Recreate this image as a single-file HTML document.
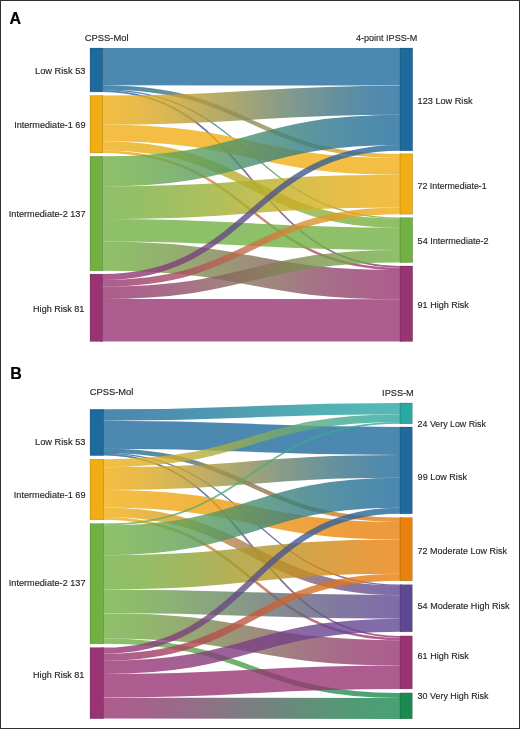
<!DOCTYPE html>
<html><head><meta charset="utf-8"><style>
html,body{margin:0;padding:0;background:#fff}
body{width:520px;height:729px;overflow:hidden}
svg{display:block;will-change:transform}
text{font-family:"Liberation Sans",sans-serif;fill:#262626;stroke:#262626;stroke-width:0.15px}
.lbl{font-size:9.60px}
.hdr{font-size:9.60px}
.big{font-size:16px;font-weight:bold;fill:#000;stroke:#000;stroke-width:0.2px}
</style></head><body>
<svg width="520" height="729" viewBox="0 0 520 729">
<defs><linearGradient id="g1" gradientUnits="userSpaceOnUse" x1="102.4" x2="400.0" y1="0" y2="0"><stop offset="0.00" stop-color="#1f6a9c"/><stop offset="0.10" stop-color="#1f6a9c"/><stop offset="0.20" stop-color="#1f6a9c"/><stop offset="0.30" stop-color="#1f6a9c"/><stop offset="0.40" stop-color="#1f6a9c"/><stop offset="0.50" stop-color="#1f6a9c"/><stop offset="0.60" stop-color="#1f6a9c"/><stop offset="0.70" stop-color="#1f6a9c"/><stop offset="0.80" stop-color="#1f6a9c"/><stop offset="0.90" stop-color="#1f6a9c"/><stop offset="1.00" stop-color="#1f6a9c"/></linearGradient><linearGradient id="g2" gradientUnits="userSpaceOnUse" x1="102.4" x2="400.0" y1="0" y2="0"><stop offset="0.00" stop-color="#1f6a9c"/><stop offset="0.10" stop-color="#2a6e95"/><stop offset="0.20" stop-color="#3c7389"/><stop offset="0.30" stop-color="#527b7b"/><stop offset="0.40" stop-color="#6c836a"/><stop offset="0.50" stop-color="#888c58"/><stop offset="0.60" stop-color="#a39546"/><stop offset="0.70" stop-color="#bd9d35"/><stop offset="0.80" stop-color="#d3a527"/><stop offset="0.90" stop-color="#e5aa1b"/><stop offset="1.00" stop-color="#f0ae14"/></linearGradient><linearGradient id="g3" gradientUnits="userSpaceOnUse" x1="102.4" x2="400.0" y1="0" y2="0"><stop offset="0.00" stop-color="#1f6a9c"/><stop offset="0.10" stop-color="#236e97"/><stop offset="0.20" stop-color="#2a7490"/><stop offset="0.30" stop-color="#337b86"/><stop offset="0.40" stop-color="#3e847c"/><stop offset="0.50" stop-color="#488d70"/><stop offset="0.60" stop-color="#539664"/><stop offset="0.70" stop-color="#5e9f5a"/><stop offset="0.80" stop-color="#67a650"/><stop offset="0.90" stop-color="#6eac49"/><stop offset="1.00" stop-color="#72b044"/></linearGradient><linearGradient id="g4" gradientUnits="userSpaceOnUse" x1="102.4" x2="400.0" y1="0" y2="0"><stop offset="0.00" stop-color="#1f6a9c"/><stop offset="0.10" stop-color="#25679a"/><stop offset="0.20" stop-color="#306396"/><stop offset="0.30" stop-color="#3d5d92"/><stop offset="0.40" stop-color="#4c568d"/><stop offset="0.50" stop-color="#5c4f87"/><stop offset="0.60" stop-color="#6b4881"/><stop offset="0.70" stop-color="#7a417c"/><stop offset="0.80" stop-color="#873b78"/><stop offset="0.90" stop-color="#923774"/><stop offset="1.00" stop-color="#983472"/></linearGradient><linearGradient id="g5" gradientUnits="userSpaceOnUse" x1="102.4" x2="400.0" y1="0" y2="0"><stop offset="0.00" stop-color="#f0ae14"/><stop offset="0.10" stop-color="#e5aa1b"/><stop offset="0.20" stop-color="#d3a527"/><stop offset="0.30" stop-color="#bd9d35"/><stop offset="0.40" stop-color="#a39546"/><stop offset="0.50" stop-color="#888c58"/><stop offset="0.60" stop-color="#6c836a"/><stop offset="0.70" stop-color="#527b7b"/><stop offset="0.80" stop-color="#3c7389"/><stop offset="0.90" stop-color="#2a6e95"/><stop offset="1.00" stop-color="#1f6a9c"/></linearGradient><linearGradient id="g6" gradientUnits="userSpaceOnUse" x1="102.4" x2="400.0" y1="0" y2="0"><stop offset="0.00" stop-color="#f0ae14"/><stop offset="0.10" stop-color="#f0ae14"/><stop offset="0.20" stop-color="#f0ae14"/><stop offset="0.30" stop-color="#f0ae14"/><stop offset="0.40" stop-color="#f0ae14"/><stop offset="0.50" stop-color="#f0ae14"/><stop offset="0.60" stop-color="#f0ae14"/><stop offset="0.70" stop-color="#f0ae14"/><stop offset="0.80" stop-color="#f0ae14"/><stop offset="0.90" stop-color="#f0ae14"/><stop offset="1.00" stop-color="#f0ae14"/></linearGradient><linearGradient id="g7" gradientUnits="userSpaceOnUse" x1="102.4" x2="400.0" y1="0" y2="0"><stop offset="0.00" stop-color="#f0ae14"/><stop offset="0.10" stop-color="#e9ae17"/><stop offset="0.20" stop-color="#dfae1b"/><stop offset="0.30" stop-color="#d1ae20"/><stop offset="0.40" stop-color="#c2af26"/><stop offset="0.50" stop-color="#b1af2c"/><stop offset="0.60" stop-color="#a0af32"/><stop offset="0.70" stop-color="#91b038"/><stop offset="0.80" stop-color="#83b03d"/><stop offset="0.90" stop-color="#79b041"/><stop offset="1.00" stop-color="#72b044"/></linearGradient><linearGradient id="g8" gradientUnits="userSpaceOnUse" x1="102.4" x2="400.0" y1="0" y2="0"><stop offset="0.00" stop-color="#f0ae14"/><stop offset="0.10" stop-color="#eba819"/><stop offset="0.20" stop-color="#e49d21"/><stop offset="0.30" stop-color="#da902b"/><stop offset="0.40" stop-color="#d08137"/><stop offset="0.50" stop-color="#c47143"/><stop offset="0.60" stop-color="#b8614f"/><stop offset="0.70" stop-color="#ae525b"/><stop offset="0.80" stop-color="#a44565"/><stop offset="0.90" stop-color="#9d3a6d"/><stop offset="1.00" stop-color="#983472"/></linearGradient><linearGradient id="g9" gradientUnits="userSpaceOnUse" x1="102.4" x2="400.0" y1="0" y2="0"><stop offset="0.00" stop-color="#72b044"/><stop offset="0.10" stop-color="#6eac49"/><stop offset="0.20" stop-color="#67a650"/><stop offset="0.30" stop-color="#5e9f5a"/><stop offset="0.40" stop-color="#539664"/><stop offset="0.50" stop-color="#488d70"/><stop offset="0.60" stop-color="#3e847c"/><stop offset="0.70" stop-color="#337b86"/><stop offset="0.80" stop-color="#2a7490"/><stop offset="0.90" stop-color="#236e97"/><stop offset="1.00" stop-color="#1f6a9c"/></linearGradient><linearGradient id="g10" gradientUnits="userSpaceOnUse" x1="102.4" x2="400.0" y1="0" y2="0"><stop offset="0.00" stop-color="#72b044"/><stop offset="0.10" stop-color="#79b041"/><stop offset="0.20" stop-color="#83b03d"/><stop offset="0.30" stop-color="#91b038"/><stop offset="0.40" stop-color="#a0af32"/><stop offset="0.50" stop-color="#b1af2c"/><stop offset="0.60" stop-color="#c2af26"/><stop offset="0.70" stop-color="#d1ae20"/><stop offset="0.80" stop-color="#dfae1b"/><stop offset="0.90" stop-color="#e9ae17"/><stop offset="1.00" stop-color="#f0ae14"/></linearGradient><linearGradient id="g11" gradientUnits="userSpaceOnUse" x1="102.4" x2="400.0" y1="0" y2="0"><stop offset="0.00" stop-color="#72b044"/><stop offset="0.10" stop-color="#72b044"/><stop offset="0.20" stop-color="#72b044"/><stop offset="0.30" stop-color="#72b044"/><stop offset="0.40" stop-color="#72b044"/><stop offset="0.50" stop-color="#72b044"/><stop offset="0.60" stop-color="#72b044"/><stop offset="0.70" stop-color="#72b044"/><stop offset="0.80" stop-color="#72b044"/><stop offset="0.90" stop-color="#72b044"/><stop offset="1.00" stop-color="#72b044"/></linearGradient><linearGradient id="g12" gradientUnits="userSpaceOnUse" x1="102.4" x2="400.0" y1="0" y2="0"><stop offset="0.00" stop-color="#72b044"/><stop offset="0.10" stop-color="#74a946"/><stop offset="0.20" stop-color="#779f4a"/><stop offset="0.30" stop-color="#7b924f"/><stop offset="0.40" stop-color="#808255"/><stop offset="0.50" stop-color="#85725b"/><stop offset="0.60" stop-color="#8a6261"/><stop offset="0.70" stop-color="#8f5267"/><stop offset="0.80" stop-color="#93456c"/><stop offset="0.90" stop-color="#963b70"/><stop offset="1.00" stop-color="#983472"/></linearGradient><linearGradient id="g13" gradientUnits="userSpaceOnUse" x1="102.4" x2="400.0" y1="0" y2="0"><stop offset="0.00" stop-color="#983472"/><stop offset="0.10" stop-color="#923774"/><stop offset="0.20" stop-color="#873b78"/><stop offset="0.30" stop-color="#7a417c"/><stop offset="0.40" stop-color="#6b4881"/><stop offset="0.50" stop-color="#5c4f87"/><stop offset="0.60" stop-color="#4c568d"/><stop offset="0.70" stop-color="#3d5d92"/><stop offset="0.80" stop-color="#306396"/><stop offset="0.90" stop-color="#25679a"/><stop offset="1.00" stop-color="#1f6a9c"/></linearGradient><linearGradient id="g14" gradientUnits="userSpaceOnUse" x1="102.4" x2="400.0" y1="0" y2="0"><stop offset="0.00" stop-color="#983472"/><stop offset="0.10" stop-color="#9d3a6d"/><stop offset="0.20" stop-color="#a44565"/><stop offset="0.30" stop-color="#ae525b"/><stop offset="0.40" stop-color="#b8614f"/><stop offset="0.50" stop-color="#c47143"/><stop offset="0.60" stop-color="#d08137"/><stop offset="0.70" stop-color="#da902b"/><stop offset="0.80" stop-color="#e49d21"/><stop offset="0.90" stop-color="#eba819"/><stop offset="1.00" stop-color="#f0ae14"/></linearGradient><linearGradient id="g15" gradientUnits="userSpaceOnUse" x1="102.4" x2="400.0" y1="0" y2="0"><stop offset="0.00" stop-color="#983472"/><stop offset="0.10" stop-color="#963b70"/><stop offset="0.20" stop-color="#93456c"/><stop offset="0.30" stop-color="#8f5267"/><stop offset="0.40" stop-color="#8a6261"/><stop offset="0.50" stop-color="#85725b"/><stop offset="0.60" stop-color="#808255"/><stop offset="0.70" stop-color="#7b924f"/><stop offset="0.80" stop-color="#779f4a"/><stop offset="0.90" stop-color="#74a946"/><stop offset="1.00" stop-color="#72b044"/></linearGradient><linearGradient id="g16" gradientUnits="userSpaceOnUse" x1="102.4" x2="400.0" y1="0" y2="0"><stop offset="0.00" stop-color="#983472"/><stop offset="0.10" stop-color="#983472"/><stop offset="0.20" stop-color="#983472"/><stop offset="0.30" stop-color="#983472"/><stop offset="0.40" stop-color="#983472"/><stop offset="0.50" stop-color="#983472"/><stop offset="0.60" stop-color="#983472"/><stop offset="0.70" stop-color="#983472"/><stop offset="0.80" stop-color="#983472"/><stop offset="0.90" stop-color="#983472"/><stop offset="1.00" stop-color="#983472"/></linearGradient><linearGradient id="g17" gradientUnits="userSpaceOnUse" x1="103.4" x2="400.0" y1="0" y2="0"><stop offset="0.00" stop-color="#1f6a9c"/><stop offset="0.10" stop-color="#206d9c"/><stop offset="0.20" stop-color="#21739d"/><stop offset="0.30" stop-color="#22799d"/><stop offset="0.40" stop-color="#23819e"/><stop offset="0.50" stop-color="#24899f"/><stop offset="0.60" stop-color="#2691a0"/><stop offset="0.70" stop-color="#2799a1"/><stop offset="0.80" stop-color="#289fa1"/><stop offset="0.90" stop-color="#29a5a2"/><stop offset="1.00" stop-color="#2aa8a2"/></linearGradient><linearGradient id="g18" gradientUnits="userSpaceOnUse" x1="103.4" x2="400.0" y1="0" y2="0"><stop offset="0.00" stop-color="#1f6a9c"/><stop offset="0.10" stop-color="#1f6a9c"/><stop offset="0.20" stop-color="#1f6a9c"/><stop offset="0.30" stop-color="#1f6a9c"/><stop offset="0.40" stop-color="#1f6a9c"/><stop offset="0.50" stop-color="#1f6a9c"/><stop offset="0.60" stop-color="#1f6a9c"/><stop offset="0.70" stop-color="#1f6a9c"/><stop offset="0.80" stop-color="#1f6a9c"/><stop offset="0.90" stop-color="#1f6a9c"/><stop offset="1.00" stop-color="#1f6a9c"/></linearGradient><linearGradient id="g19" gradientUnits="userSpaceOnUse" x1="103.4" x2="400.0" y1="0" y2="0"><stop offset="0.00" stop-color="#1f6a9c"/><stop offset="0.10" stop-color="#2a6b94"/><stop offset="0.20" stop-color="#3b6d88"/><stop offset="0.30" stop-color="#506f79"/><stop offset="0.40" stop-color="#697267"/><stop offset="0.50" stop-color="#847554"/><stop offset="0.60" stop-color="#9e7841"/><stop offset="0.70" stop-color="#b77b2f"/><stop offset="0.80" stop-color="#cc7d20"/><stop offset="0.90" stop-color="#dd7f14"/><stop offset="1.00" stop-color="#e8800c"/></linearGradient><linearGradient id="g20" gradientUnits="userSpaceOnUse" x1="103.4" x2="400.0" y1="0" y2="0"><stop offset="0.00" stop-color="#1f6a9c"/><stop offset="0.10" stop-color="#22689c"/><stop offset="0.20" stop-color="#28659b"/><stop offset="0.30" stop-color="#2e629a"/><stop offset="0.40" stop-color="#365d99"/><stop offset="0.50" stop-color="#3e5998"/><stop offset="0.60" stop-color="#475597"/><stop offset="0.70" stop-color="#4f5096"/><stop offset="0.80" stop-color="#554d95"/><stop offset="0.90" stop-color="#5b4a94"/><stop offset="1.00" stop-color="#5e4894"/></linearGradient><linearGradient id="g21" gradientUnits="userSpaceOnUse" x1="103.4" x2="400.0" y1="0" y2="0"><stop offset="0.00" stop-color="#1f6a9c"/><stop offset="0.10" stop-color="#25679a"/><stop offset="0.20" stop-color="#306396"/><stop offset="0.30" stop-color="#3d5d92"/><stop offset="0.40" stop-color="#4c568d"/><stop offset="0.50" stop-color="#5c4f87"/><stop offset="0.60" stop-color="#6b4881"/><stop offset="0.70" stop-color="#7a417c"/><stop offset="0.80" stop-color="#873b78"/><stop offset="0.90" stop-color="#923774"/><stop offset="1.00" stop-color="#983472"/></linearGradient><linearGradient id="g22" gradientUnits="userSpaceOnUse" x1="103.4" x2="400.0" y1="0" y2="0"><stop offset="0.00" stop-color="#f0ae14"/><stop offset="0.10" stop-color="#e5ae1c"/><stop offset="0.20" stop-color="#d5ad28"/><stop offset="0.30" stop-color="#bfad37"/><stop offset="0.40" stop-color="#a7ac48"/><stop offset="0.50" stop-color="#8dab5b"/><stop offset="0.60" stop-color="#73aa6e"/><stop offset="0.70" stop-color="#5ba97f"/><stop offset="0.80" stop-color="#45a98e"/><stop offset="0.90" stop-color="#35a89a"/><stop offset="1.00" stop-color="#2aa8a2"/></linearGradient><linearGradient id="g23" gradientUnits="userSpaceOnUse" x1="103.4" x2="400.0" y1="0" y2="0"><stop offset="0.00" stop-color="#f0ae14"/><stop offset="0.10" stop-color="#e5aa1b"/><stop offset="0.20" stop-color="#d3a527"/><stop offset="0.30" stop-color="#bd9d35"/><stop offset="0.40" stop-color="#a39546"/><stop offset="0.50" stop-color="#888c58"/><stop offset="0.60" stop-color="#6c836a"/><stop offset="0.70" stop-color="#527b7b"/><stop offset="0.80" stop-color="#3c7389"/><stop offset="0.90" stop-color="#2a6e95"/><stop offset="1.00" stop-color="#1f6a9c"/></linearGradient><linearGradient id="g24" gradientUnits="userSpaceOnUse" x1="103.4" x2="400.0" y1="0" y2="0"><stop offset="0.00" stop-color="#f0ae14"/><stop offset="0.10" stop-color="#f0ac14"/><stop offset="0.20" stop-color="#efa813"/><stop offset="0.30" stop-color="#eea312"/><stop offset="0.40" stop-color="#ed9d11"/><stop offset="0.50" stop-color="#ec9710"/><stop offset="0.60" stop-color="#eb910f"/><stop offset="0.70" stop-color="#ea8b0e"/><stop offset="0.80" stop-color="#e9860d"/><stop offset="0.90" stop-color="#e8820c"/><stop offset="1.00" stop-color="#e8800c"/></linearGradient><linearGradient id="g25" gradientUnits="userSpaceOnUse" x1="103.4" x2="400.0" y1="0" y2="0"><stop offset="0.00" stop-color="#f0ae14"/><stop offset="0.10" stop-color="#e8a91b"/><stop offset="0.20" stop-color="#dca026"/><stop offset="0.30" stop-color="#cc9533"/><stop offset="0.40" stop-color="#ba8843"/><stop offset="0.50" stop-color="#a77b54"/><stop offset="0.60" stop-color="#946e65"/><stop offset="0.70" stop-color="#826175"/><stop offset="0.80" stop-color="#725682"/><stop offset="0.90" stop-color="#664d8d"/><stop offset="1.00" stop-color="#5e4894"/></linearGradient><linearGradient id="g26" gradientUnits="userSpaceOnUse" x1="103.4" x2="400.0" y1="0" y2="0"><stop offset="0.00" stop-color="#f0ae14"/><stop offset="0.10" stop-color="#eba819"/><stop offset="0.20" stop-color="#e49d21"/><stop offset="0.30" stop-color="#da902b"/><stop offset="0.40" stop-color="#d08137"/><stop offset="0.50" stop-color="#c47143"/><stop offset="0.60" stop-color="#b8614f"/><stop offset="0.70" stop-color="#ae525b"/><stop offset="0.80" stop-color="#a44565"/><stop offset="0.90" stop-color="#9d3a6d"/><stop offset="1.00" stop-color="#983472"/></linearGradient><linearGradient id="g27" gradientUnits="userSpaceOnUse" x1="103.4" x2="400.0" y1="0" y2="0"><stop offset="0.00" stop-color="#72b044"/><stop offset="0.10" stop-color="#6eb049"/><stop offset="0.20" stop-color="#68af51"/><stop offset="0.30" stop-color="#60ae5b"/><stop offset="0.40" stop-color="#57ad67"/><stop offset="0.50" stop-color="#4eac73"/><stop offset="0.60" stop-color="#45ab7f"/><stop offset="0.70" stop-color="#3caa8b"/><stop offset="0.80" stop-color="#34a995"/><stop offset="0.90" stop-color="#2ea89d"/><stop offset="1.00" stop-color="#2aa8a2"/></linearGradient><linearGradient id="g28" gradientUnits="userSpaceOnUse" x1="103.4" x2="400.0" y1="0" y2="0"><stop offset="0.00" stop-color="#72b044"/><stop offset="0.10" stop-color="#6eac49"/><stop offset="0.20" stop-color="#67a650"/><stop offset="0.30" stop-color="#5e9f5a"/><stop offset="0.40" stop-color="#539664"/><stop offset="0.50" stop-color="#488d70"/><stop offset="0.60" stop-color="#3e847c"/><stop offset="0.70" stop-color="#337b86"/><stop offset="0.80" stop-color="#2a7490"/><stop offset="0.90" stop-color="#236e97"/><stop offset="1.00" stop-color="#1f6a9c"/></linearGradient><linearGradient id="g29" gradientUnits="userSpaceOnUse" x1="103.4" x2="400.0" y1="0" y2="0"><stop offset="0.00" stop-color="#72b044"/><stop offset="0.10" stop-color="#78ad41"/><stop offset="0.20" stop-color="#82a93c"/><stop offset="0.30" stop-color="#8fa436"/><stop offset="0.40" stop-color="#9e9e2f"/><stop offset="0.50" stop-color="#ad9828"/><stop offset="0.60" stop-color="#bc9221"/><stop offset="0.70" stop-color="#cb8c1a"/><stop offset="0.80" stop-color="#d88714"/><stop offset="0.90" stop-color="#e2830f"/><stop offset="1.00" stop-color="#e8800c"/></linearGradient><linearGradient id="g30" gradientUnits="userSpaceOnUse" x1="103.4" x2="400.0" y1="0" y2="0"><stop offset="0.00" stop-color="#72b044"/><stop offset="0.10" stop-color="#71aa48"/><stop offset="0.20" stop-color="#6fa24f"/><stop offset="0.30" stop-color="#6d9658"/><stop offset="0.40" stop-color="#6b8a62"/><stop offset="0.50" stop-color="#687c6c"/><stop offset="0.60" stop-color="#656e76"/><stop offset="0.70" stop-color="#636280"/><stop offset="0.80" stop-color="#615689"/><stop offset="0.90" stop-color="#5f4e90"/><stop offset="1.00" stop-color="#5e4894"/></linearGradient><linearGradient id="g31" gradientUnits="userSpaceOnUse" x1="103.4" x2="400.0" y1="0" y2="0"><stop offset="0.00" stop-color="#72b044"/><stop offset="0.10" stop-color="#74a946"/><stop offset="0.20" stop-color="#779f4a"/><stop offset="0.30" stop-color="#7b924f"/><stop offset="0.40" stop-color="#808255"/><stop offset="0.50" stop-color="#85725b"/><stop offset="0.60" stop-color="#8a6261"/><stop offset="0.70" stop-color="#8f5267"/><stop offset="0.80" stop-color="#93456c"/><stop offset="0.90" stop-color="#963b70"/><stop offset="1.00" stop-color="#983472"/></linearGradient><linearGradient id="g32" gradientUnits="userSpaceOnUse" x1="103.4" x2="400.0" y1="0" y2="0"><stop offset="0.00" stop-color="#72b044"/><stop offset="0.10" stop-color="#6dae45"/><stop offset="0.20" stop-color="#66ab46"/><stop offset="0.30" stop-color="#5ca747"/><stop offset="0.40" stop-color="#52a248"/><stop offset="0.50" stop-color="#469d4a"/><stop offset="0.60" stop-color="#3a984c"/><stop offset="0.70" stop-color="#30934d"/><stop offset="0.80" stop-color="#268f4e"/><stop offset="0.90" stop-color="#1f8c4f"/><stop offset="1.00" stop-color="#1a8a50"/></linearGradient><linearGradient id="g33" gradientUnits="userSpaceOnUse" x1="103.4" x2="400.0" y1="0" y2="0"><stop offset="0.00" stop-color="#983472"/><stop offset="0.10" stop-color="#923774"/><stop offset="0.20" stop-color="#873b78"/><stop offset="0.30" stop-color="#7a417c"/><stop offset="0.40" stop-color="#6b4881"/><stop offset="0.50" stop-color="#5c4f87"/><stop offset="0.60" stop-color="#4c568d"/><stop offset="0.70" stop-color="#3d5d92"/><stop offset="0.80" stop-color="#306396"/><stop offset="0.90" stop-color="#25679a"/><stop offset="1.00" stop-color="#1f6a9c"/></linearGradient><linearGradient id="g34" gradientUnits="userSpaceOnUse" x1="103.4" x2="400.0" y1="0" y2="0"><stop offset="0.00" stop-color="#983472"/><stop offset="0.10" stop-color="#9c386d"/><stop offset="0.20" stop-color="#a33e64"/><stop offset="0.30" stop-color="#ac4759"/><stop offset="0.40" stop-color="#b6504c"/><stop offset="0.50" stop-color="#c05a3f"/><stop offset="0.60" stop-color="#ca6432"/><stop offset="0.70" stop-color="#d46d25"/><stop offset="0.80" stop-color="#dd761a"/><stop offset="0.90" stop-color="#e47c11"/><stop offset="1.00" stop-color="#e8800c"/></linearGradient><linearGradient id="g35" gradientUnits="userSpaceOnUse" x1="103.4" x2="400.0" y1="0" y2="0"><stop offset="0.00" stop-color="#983472"/><stop offset="0.10" stop-color="#953574"/><stop offset="0.20" stop-color="#903777"/><stop offset="0.30" stop-color="#8a397a"/><stop offset="0.40" stop-color="#833b7f"/><stop offset="0.50" stop-color="#7b3e83"/><stop offset="0.60" stop-color="#734187"/><stop offset="0.70" stop-color="#6c438c"/><stop offset="0.80" stop-color="#66458f"/><stop offset="0.90" stop-color="#614792"/><stop offset="1.00" stop-color="#5e4894"/></linearGradient><linearGradient id="g36" gradientUnits="userSpaceOnUse" x1="103.4" x2="400.0" y1="0" y2="0"><stop offset="0.00" stop-color="#983472"/><stop offset="0.10" stop-color="#983472"/><stop offset="0.20" stop-color="#983472"/><stop offset="0.30" stop-color="#983472"/><stop offset="0.40" stop-color="#983472"/><stop offset="0.50" stop-color="#983472"/><stop offset="0.60" stop-color="#983472"/><stop offset="0.70" stop-color="#983472"/><stop offset="0.80" stop-color="#983472"/><stop offset="0.90" stop-color="#983472"/><stop offset="1.00" stop-color="#983472"/></linearGradient><linearGradient id="g37" gradientUnits="userSpaceOnUse" x1="103.4" x2="400.0" y1="0" y2="0"><stop offset="0.00" stop-color="#983472"/><stop offset="0.10" stop-color="#913970"/><stop offset="0.20" stop-color="#87406d"/><stop offset="0.30" stop-color="#79496a"/><stop offset="0.40" stop-color="#6a5465"/><stop offset="0.50" stop-color="#595f61"/><stop offset="0.60" stop-color="#486a5d"/><stop offset="0.70" stop-color="#397558"/><stop offset="0.80" stop-color="#2b7e55"/><stop offset="0.90" stop-color="#218552"/><stop offset="1.00" stop-color="#1a8a50"/></linearGradient></defs>
<rect x="0" y="0" width="520" height="729" fill="#fff"/>
<g fill="none" stroke-opacity="0.80"><path d="M100.40,66.64H102.40C251.20,66.64 251.20,66.80 400.00,66.80H402.00" stroke="url(#g1)" stroke-width="37.44"/><path d="M100.40,87.34H102.40C251.20,87.34 251.20,155.90 400.00,155.90H402.00" stroke="url(#g2)" stroke-width="4.17"/><path d="M100.40,89.83H102.40C251.20,89.83 251.20,218.11 400.00,218.11H402.00" stroke="url(#g3)" stroke-width="1.30"/><path d="M100.40,91.07H102.40C251.20,91.07 251.20,266.83 400.00,266.83H402.00" stroke="url(#g4)" stroke-width="1.66"/><path d="M100.40,110.13H102.40C251.20,110.13 251.20,100.24 400.00,100.24H402.00" stroke="url(#g5)" stroke-width="29.16"/><path d="M100.40,132.97H102.40C251.20,132.97 251.20,166.38 400.00,166.38H402.00" stroke="url(#g6)" stroke-width="16.69"/><path d="M100.40,145.84H102.40C251.20,145.84 251.20,223.09 400.00,223.09H402.00" stroke="url(#g7)" stroke-width="9.13"/><path d="M100.40,151.65H102.40C251.20,151.65 251.20,268.90 400.00,268.90H402.00" stroke="url(#g8)" stroke-width="2.49"/><path d="M100.40,171.34H102.40C251.20,171.34 251.20,129.91 400.00,129.91H402.00" stroke="url(#g9)" stroke-width="30.09"/><path d="M100.40,202.69H102.40C251.20,202.69 251.20,191.13 400.00,191.13H402.00" stroke="url(#g10)" stroke-width="32.66"/><path d="M100.40,230.27H102.40C251.20,230.27 251.20,238.86 400.00,238.86H402.00" stroke="url(#g11)" stroke-width="22.48"/><path d="M100.40,256.17H102.40C251.20,256.17 251.20,284.67 400.00,284.67H402.00" stroke="url(#g12)" stroke-width="29.15"/><path d="M100.40,277.01H102.40C251.20,277.01 251.20,147.87 400.00,147.87H402.00" stroke="url(#g13)" stroke-width="5.84"/><path d="M100.40,283.25H102.40C251.20,283.25 251.20,210.84 400.00,210.84H402.00" stroke="url(#g14)" stroke-width="6.68"/><path d="M100.40,292.82H102.40C251.20,292.82 251.20,256.28 400.00,256.28H402.00" stroke="url(#g15)" stroke-width="12.46"/><path d="M100.40,320.28H102.40C251.20,320.28 251.20,320.34 400.00,320.34H402.00" stroke="url(#g16)" stroke-width="42.38"/></g>
<rect x="90.0" y="48.00" width="12.40" height="43.90" fill="#1f6a9c" stroke="#000" stroke-opacity="0.25" stroke-width="0.6"/>
<rect x="90.0" y="95.60" width="12.40" height="57.30" fill="#f0ae14" stroke="#000" stroke-opacity="0.25" stroke-width="0.6"/>
<rect x="90.0" y="156.30" width="12.40" height="114.50" fill="#72b044" stroke="#000" stroke-opacity="0.25" stroke-width="0.6"/>
<rect x="90.0" y="274.10" width="12.40" height="67.40" fill="#983472" stroke="#000" stroke-opacity="0.25" stroke-width="0.6"/>
<rect x="400.0" y="48.00" width="12.70" height="102.80" fill="#1f6a9c" stroke="#000" stroke-opacity="0.25" stroke-width="0.6"/>
<rect x="400.0" y="153.80" width="12.70" height="60.40" fill="#f0ae14" stroke="#000" stroke-opacity="0.25" stroke-width="0.6"/>
<rect x="400.0" y="217.70" width="12.70" height="44.80" fill="#72b044" stroke="#000" stroke-opacity="0.25" stroke-width="0.6"/>
<rect x="400.0" y="266.00" width="12.70" height="75.50" fill="#983472" stroke="#000" stroke-opacity="0.25" stroke-width="0.6"/>
<g fill="none" stroke-opacity="0.80"><path d="M101.40,414.98H103.40C251.70,414.98 251.70,408.63 400.00,408.63H402.00" stroke="url(#g17)" stroke-width="11.31"/><path d="M101.40,434.63H103.40C251.70,434.63 251.70,441.03 400.00,441.03H402.00" stroke="url(#g18)" stroke-width="28.01"/><path d="M101.40,450.80H103.40C251.70,450.80 251.70,519.79 400.00,519.79H402.00" stroke="url(#g19)" stroke-width="4.38"/><path d="M101.40,453.42H103.40C251.70,453.42 251.70,585.14 400.00,585.14H402.00" stroke="url(#g20)" stroke-width="1.30"/><path d="M101.40,454.73H103.40C251.70,454.73 251.70,636.77 400.00,636.77H402.00" stroke="url(#g21)" stroke-width="1.74"/><path d="M101.40,463.24H103.40C251.70,463.24 251.70,418.17 400.00,418.17H402.00" stroke="url(#g22)" stroke-width="7.84"/><path d="M101.40,478.56H103.40C251.70,478.56 251.70,466.45 400.00,466.45H402.00" stroke="url(#g23)" stroke-width="22.78"/><path d="M101.40,498.69H103.40C251.70,498.69 251.70,530.77 400.00,530.77H402.00" stroke="url(#g24)" stroke-width="17.53"/><path d="M101.40,512.26H103.40C251.70,512.26 251.70,590.37 400.00,590.37H402.00" stroke="url(#g25)" stroke-width="9.61"/><path d="M101.40,518.39H103.40C251.70,518.39 251.70,638.94 400.00,638.94H402.00" stroke="url(#g26)" stroke-width="2.62"/><path d="M101.40,524.48H103.40C251.70,524.48 251.70,422.93 400.00,422.93H402.00" stroke="url(#g27)" stroke-width="1.74"/><path d="M101.40,540.27H103.40C251.70,540.27 251.70,492.76 400.00,492.76H402.00" stroke="url(#g28)" stroke-width="29.82"/><path d="M101.40,572.29H103.40C251.70,572.29 251.70,556.66 400.00,556.66H402.00" stroke="url(#g29)" stroke-width="34.23"/><path d="M101.40,601.25H103.40C251.70,601.25 251.70,606.94 400.00,606.94H402.00" stroke="url(#g30)" stroke-width="23.62"/><path d="M101.40,625.81H103.40C251.70,625.81 251.70,652.84 400.00,652.84H402.00" stroke="url(#g31)" stroke-width="25.32"/><path d="M101.40,641.17H103.40C251.70,641.17 251.70,695.49 400.00,695.49H402.00" stroke="url(#g32)" stroke-width="5.22"/><path d="M101.40,650.67H103.40C251.70,650.67 251.70,510.73 400.00,510.73H402.00" stroke="url(#g33)" stroke-width="6.14"/><path d="M101.40,657.26H103.40C251.70,657.26 251.70,577.29 400.00,577.29H402.00" stroke="url(#g34)" stroke-width="7.02"/><path d="M101.40,667.35H103.40C251.70,667.35 251.70,625.26 400.00,625.26H402.00" stroke="url(#g35)" stroke-width="13.12"/><path d="M101.40,685.78H103.40C251.70,685.78 251.70,677.17 400.00,677.17H402.00" stroke="url(#g36)" stroke-width="23.58"/><path d="M101.40,708.17H103.40C251.70,708.17 251.70,708.44 400.00,708.44H402.00" stroke="url(#g37)" stroke-width="20.89"/></g>
<rect x="90.0" y="409.30" width="13.40" height="46.30" fill="#1f6a9c" stroke="#000" stroke-opacity="0.25" stroke-width="0.6"/>
<rect x="90.0" y="459.30" width="13.40" height="60.40" fill="#f0ae14" stroke="#000" stroke-opacity="0.25" stroke-width="0.6"/>
<rect x="90.0" y="523.60" width="13.40" height="120.20" fill="#72b044" stroke="#000" stroke-opacity="0.25" stroke-width="0.6"/>
<rect x="90.0" y="647.60" width="13.40" height="71.10" fill="#983472" stroke="#000" stroke-opacity="0.25" stroke-width="0.6"/>
<rect x="400.0" y="403.00" width="12.30" height="20.80" fill="#2aa8a2" stroke="#000" stroke-opacity="0.25" stroke-width="0.6"/>
<rect x="400.0" y="427.00" width="12.30" height="86.80" fill="#1f6a9c" stroke="#000" stroke-opacity="0.25" stroke-width="0.6"/>
<rect x="400.0" y="517.60" width="12.30" height="63.20" fill="#e8800c" stroke="#000" stroke-opacity="0.25" stroke-width="0.6"/>
<rect x="400.0" y="584.70" width="12.30" height="47.10" fill="#5e4894" stroke="#000" stroke-opacity="0.25" stroke-width="0.6"/>
<rect x="400.0" y="635.90" width="12.30" height="53.00" fill="#983472" stroke="#000" stroke-opacity="0.25" stroke-width="0.6"/>
<rect x="400.0" y="692.90" width="12.30" height="25.90" fill="#1a8a50" stroke="#000" stroke-opacity="0.25" stroke-width="0.6"/>
<text id="t0" x="84.8" y="41.2" text-anchor="start" class="hdr" textLength="43.76" lengthAdjust="spacingAndGlyphs">CPSS-Mol</text>
<text id="t1" x="417.2" y="41.3" text-anchor="end" class="hdr" textLength="61.16" lengthAdjust="spacingAndGlyphs">4-point IPSS-M</text>
<text id="t2" x="85.5" y="74.0" text-anchor="end" class="lbl" textLength="50.52" lengthAdjust="spacingAndGlyphs">Low Risk 53</text>
<text id="t3" x="85.5" y="127.8" text-anchor="end" class="lbl" textLength="71.34" lengthAdjust="spacingAndGlyphs">Intermediate-1 69</text>
<text id="t4" x="85.5" y="217.0" text-anchor="end" class="lbl" textLength="76.66" lengthAdjust="spacingAndGlyphs">Intermediate-2 137</text>
<text id="t5" x="84.4" y="311.6" text-anchor="end" class="lbl" textLength="51.31" lengthAdjust="spacingAndGlyphs">High Risk 81</text>
<text id="t6" x="417.6" y="103.6" text-anchor="start" class="lbl" textLength="54.97" lengthAdjust="spacingAndGlyphs">123 Low Risk</text>
<text id="t7" x="417.6" y="188.6" text-anchor="start" class="lbl" textLength="69.11" lengthAdjust="spacingAndGlyphs">72 Intermediate-1</text>
<text id="t8" x="417.6" y="244.0" text-anchor="start" class="lbl" textLength="70.93" lengthAdjust="spacingAndGlyphs">54 Intermediate-2</text>
<text id="t9" x="417.6" y="307.5" text-anchor="start" class="lbl" textLength="51.17" lengthAdjust="spacingAndGlyphs">91 High Risk</text>
<text id="t10" x="89.8" y="395.3" text-anchor="start" class="hdr" textLength="43.56" lengthAdjust="spacingAndGlyphs">CPSS-Mol</text>
<text id="t11" x="413.8" y="395.6" text-anchor="end" class="hdr" textLength="31.72" lengthAdjust="spacingAndGlyphs">IPSS-M</text>
<text id="t12" x="85.5" y="445.4" text-anchor="end" class="lbl" textLength="50.52" lengthAdjust="spacingAndGlyphs">Low Risk 53</text>
<text id="t13" x="85.5" y="497.8" text-anchor="end" class="lbl" textLength="71.75" lengthAdjust="spacingAndGlyphs">Intermediate-1 69</text>
<text id="t14" x="85.5" y="585.6" text-anchor="end" class="lbl" textLength="76.66" lengthAdjust="spacingAndGlyphs">Intermediate-2 137</text>
<text id="t15" x="84.4" y="678.4" text-anchor="end" class="lbl" textLength="51.31" lengthAdjust="spacingAndGlyphs">High Risk 81</text>
<text id="t16" x="417.6" y="427.3" text-anchor="start" class="lbl" textLength="68.32" lengthAdjust="spacingAndGlyphs">24 Very Low Risk</text>
<text id="t17" x="417.6" y="480.0" text-anchor="start" class="lbl" textLength="49.35" lengthAdjust="spacingAndGlyphs">99 Low Risk</text>
<text id="t18" x="417.6" y="553.6" text-anchor="start" class="lbl" textLength="89.32" lengthAdjust="spacingAndGlyphs">72 Moderate Low Risk</text>
<text id="t19" x="417.6" y="608.6" text-anchor="start" class="lbl" textLength="91.96" lengthAdjust="spacingAndGlyphs">54 Moderate High Risk</text>
<text id="t20" x="417.6" y="659.0" text-anchor="start" class="lbl" textLength="51.17" lengthAdjust="spacingAndGlyphs">61 High Risk</text>
<text id="t21" x="417.6" y="699.0" text-anchor="start" class="lbl" textLength="70.93" lengthAdjust="spacingAndGlyphs">30 Very High Risk</text>
<text x="9.6" y="23.6" class="big">A</text>
<text x="10.2" y="378.8" class="big">B</text>
<rect x="0.5" y="0.5" width="519" height="728" fill="none" stroke="#2e2e2e" stroke-width="1"/>
</svg>
</body></html>
